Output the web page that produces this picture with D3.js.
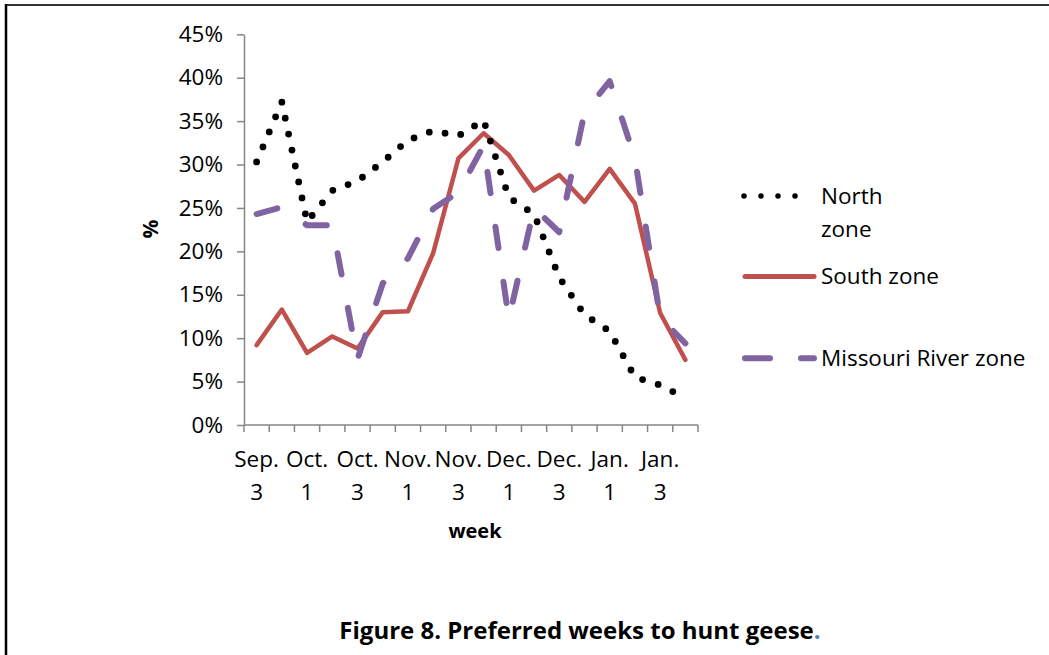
<!DOCTYPE html>
<html><head><meta charset="utf-8">
<script src="https://cdn.jsdelivr.net/npm/d3@7"></script>
<style>
html,body{margin:0;padding:0;background:#fff;}
svg{display:block;}
text{font-family:"Open Sans","Noto Sans",sans-serif;fill:#000;}
</style></head>
<body>
<svg id="chart" width="1049" height="655"></svg>
<script>
const categories = ["Sep. 3","Sep. 4","Oct. 1","Oct. 2","Oct. 3","Oct. 4","Nov. 1","Nov. 2","Nov. 3","Nov. 4","Dec. 1","Dec. 2","Dec. 3","Dec. 4","Jan. 1","Jan. 2","Jan. 3","Jan. 4"];
const northZone = [30.3, 37.2, 23.4, 27.0, 28.1, 30.3, 32.8, 33.9, 33.3, 35.1, 26.2, 24.3, 17.0, 12.7, 10.8, 5.5, 4.6, 3.1];
const southZone = [9.2, 13.3, 8.3, 10.2, 8.8, 13.0, 13.1, 19.8, 30.7, 33.6, 31.1, 27.0, 28.8, 25.7, 29.5, 25.5, 12.9, 7.5];
const missouriZone = [24.3, 25.1, 23.0, 23.0, 7.6, 16.3, 19.2, 24.9, 26.8, 32.2, 12.2, 25.0, 22.2, 36.0, 39.6, 30.7, 12.4, 9.4];
const yTicks = [0, 5, 10, 15, 20, 25, 30, 35, 40, 45];
const seriesNames = ["North zone", "South zone", "Missouri River zone"];

const svg = d3.select("#chart");
const plotLeft = 244, plotRight = 698, plotTop = 34.3, plotBottom = 425;
const fs = 22.5;

// frame
svg.append("line").attr("x1", 6).attr("x2", 1049).attr("y1", 5).attr("y2", 5)
  .attr("stroke", "#333").attr("stroke-width", 2);
svg.append("line").attr("x1", 6).attr("x2", 6).attr("y1", 4).attr("y2", 655)
  .attr("stroke", "#000").attr("stroke-width", 2.5);

const x = d3.scaleBand().domain(categories).range([plotLeft, plotRight]).padding(0);
const y = d3.scaleLinear().domain([0, 45]).range([plotBottom, plotTop]);
const cx = d => x(d) + x.bandwidth() / 2;

// y axis
const yAxis = svg.append("g").attr("transform", `translate(${plotLeft},0)`)
  .call(d3.axisLeft(y).tickValues(yTicks).tickFormat(d => d + "%").tickSize(7).tickSizeOuter(0));
yAxis.select(".domain").attr("stroke", "#868686").attr("stroke-width", 1.5);
yAxis.selectAll(".tick line").attr("stroke", "#868686").attr("stroke-width", 1.5);
yAxis.selectAll(".tick text").attr("x", -21).attr("font-size", fs)
  .attr("font-family", "Open Sans").attr("fill", "#000");

// x axis: ticks at band boundaries
const xAxisG = svg.append("g").attr("transform", `translate(0,${plotBottom})`);
xAxisG.append("line").attr("x1", plotLeft).attr("x2", plotRight).attr("y1", 0).attr("y2", 0)
  .attr("stroke", "#868686").attr("stroke-width", 1.5);
const boundaries = categories.map(c => x(c)).concat([plotRight]);
xAxisG.selectAll("line.tk").data(boundaries).join("line").attr("class", "tk")
  .attr("x1", d => d).attr("x2", d => d).attr("y1", 0).attr("y2", 7)
  .attr("stroke", "#868686").attr("stroke-width", 1.5);
const labelCats = categories.filter((c, i) => i % 2 === 0);
const xl = xAxisG.selectAll("text.xl").data(labelCats).join("text").attr("class", "xl")
  .attr("text-anchor", "middle").attr("font-size", fs);
xl.append("tspan").attr("x", d => cx(d)).attr("y", 42).text(d => d.split(" ")[0]);
xl.append("tspan").attr("x", d => cx(d)).attr("y", 75).text(d => d.split(" ")[1]);

// axis titles
svg.append("text").attr("x", 475).attr("y", 538).attr("text-anchor", "middle")
  .attr("font-size", 20).attr("font-weight", "bold").text("week");
svg.append("text").attr("transform", "translate(158,229) rotate(-90)").attr("text-anchor", "middle")
  .attr("font-size", 21).attr("font-weight", "bold").text("%");

// lines
const line = d3.line().x((d, i) => cx(categories[i])).y(d => y(d));
svg.append("path").datum(southZone).attr("d", line).attr("fill", "none")
  .attr("stroke", "#C0504D").attr("stroke-width", 4.5).attr("stroke-linejoin", "round").attr("stroke-linecap", "round");
svg.append("path").datum(missouriZone).attr("d", line).attr("fill", "none")
  .attr("stroke", "#8064A2").attr("stroke-width", 6).attr("stroke-linejoin", "round")
  .attr("stroke-linecap", "round").attr("stroke-dasharray", "21.5 34");
svg.append("path").datum(northZone).attr("d", line).attr("fill", "none")
  .attr("stroke", "#000").attr("stroke-width", 6.8).attr("stroke-linejoin", "round")
  .attr("stroke-linecap", "round").attr("stroke-dasharray", "0 16.3");

// legend
const lg = svg.append("g");
lg.append("line").attr("x1", 744).attr("x2", 812).attr("y1", 196).attr("y2", 196)
  .attr("stroke", "#000").attr("stroke-width", 5.5).attr("stroke-linecap", "round").attr("stroke-dasharray", "0 17");
lg.append("line").attr("x1", 745).attr("x2", 814).attr("y1", 276.5).attr("y2", 276.5)
  .attr("stroke", "#C0504D").attr("stroke-width", 5).attr("stroke-linecap", "round");
lg.append("line").attr("x1", 745).attr("x2", 814).attr("y1", 358.3).attr("y2", 358.3)
  .attr("stroke", "#8064A2").attr("stroke-width", 6).attr("stroke-linecap", "round").attr("stroke-dasharray", "25 31");
const t1 = lg.append("text").attr("font-size", fs);
t1.append("tspan").attr("x", 821).attr("y", 203.5).text(seriesNames[0].split(" ")[0]);
t1.append("tspan").attr("x", 821).attr("y", 236.5).text(seriesNames[0].split(" ")[1]);
lg.append("text").attr("x", 821).attr("y", 284).attr("font-size", fs).text(seriesNames[1]);
lg.append("text").attr("x", 821).attr("y", 366).attr("font-size", fs).text(seriesNames[2]);

// title
const title = svg.append("text").attr("x", 580).attr("y", 639).attr("text-anchor", "middle")
  .attr("font-size", 24).attr("font-weight", "bold");
title.append("tspan").text("Figure 8. Preferred weeks to hunt geese");
title.append("tspan").attr("fill", "#4F81BD").text(".");
</script>
</body></html>
